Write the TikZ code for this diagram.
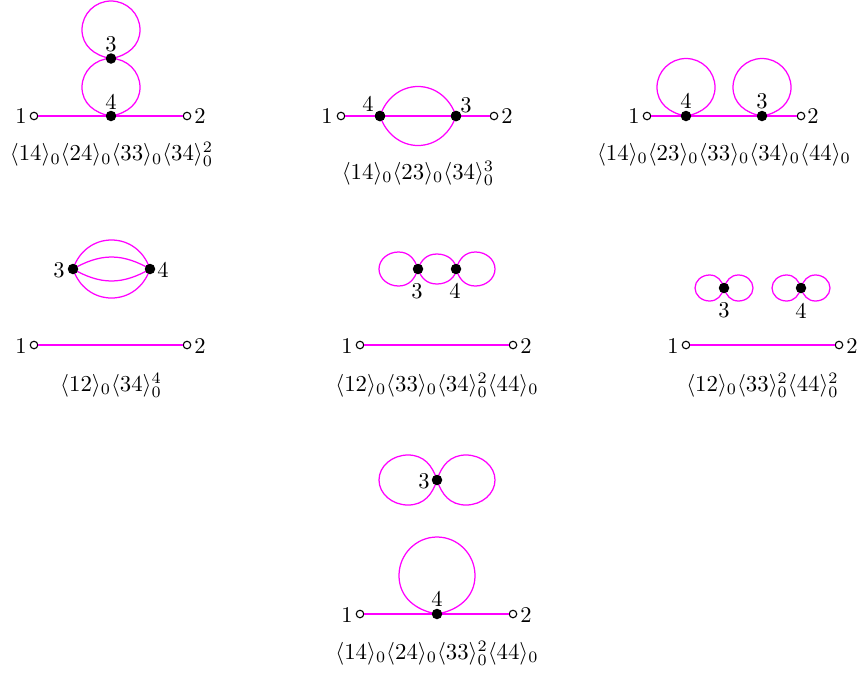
\documentclass[tikz,border=0pt]{standalone}
\definecolor{wirecol}{RGB}{255,0,255}
\begin{document}
\begin{tikzpicture}[x=1pt,y=-1pt,
  wire/.style={wirecol,line width=1.25pt},
  upward/.style={x={(1pt,0pt)},y={(0pt,1pt)}},
  rightward/.style={x={(0pt,1pt)},y={(1pt,0pt)}},
  leftward/.style={x={(0pt,1pt)},y={(-1pt,0pt)}},
  soliddot/.style={circle,fill=black,draw=none,inner sep=0pt,minimum size=10.5pt},
  opendot/.style={circle,fill=white,draw=black,line width=1.1pt,inner sep=0pt,minimum size=7.5pt},
  lab/.style={inner sep=0pt,scale=2.25},
  captext/.style={inner sep=0pt,scale=2.28}]
\useasboundingbox (0,0) rectangle (859,673);
% #1 vertex, #2 direction style, #3 half width, #4 length, #5 pinch at the vertex
\newcommand\wloop[5]{\draw[wire,shift={(#1)},#2]
  (0,0) .. controls ({0.58*#3},{#5*#4}) and (#3,{0.225*#4}) .. (#3,{0.5*#4})
  .. controls (#3,{0.775*#4}) and ({0.55*#3},#4) .. (0,#4)
  .. controls ({-0.55*#3},#4) and (-#3,{0.775*#4}) .. (-#3,{0.5*#4})
  .. controls (-#3,{0.225*#4}) and ({-0.58*#3},{#5*#4}) .. (0,0);}
% D1
\node[opendot] (a1) at (34,116) {}; \node[opendot] (a2) at (187,116) {};
\coordinate (a4) at (111,116); \coordinate (a3) at (111,58.5);
\draw[wire] (a1) -- (a4) -- (a2);
\wloop{a4}{upward}{29}{57.5}{0.05}
\wloop{a3}{upward}{29}{57.5}{0.05}
\node[soliddot] (a4d) at (a4) {}; \node[soliddot] (a3d) at (a3) {};
\node[lab] (a1l) at (21,116.5) {1}; \node[lab] (a2l) at (200,116.5) {2};
\node[lab] (a3l) at (111,44.5) {3}; \node[lab] (a4l) at (111,102) {4};
\node[captext] (acap) at (111.5,154.5) {$\langle14\rangle_0\langle24\rangle_0\langle33\rangle_0\langle34\rangle_0^2$};
% D2
\node[opendot] (b1) at (341,116) {}; \node[opendot] (b2) at (494,116) {};
\node[soliddot] (b4) at (380,116) {}; \node[soliddot] (b3) at (456,116) {};
\coordinate (bt) at (418,86.5); \coordinate (bb) at (418,145.5);
\draw[wire] (b1) -- (b4) -- (b3) -- (b2);
\draw[wire] (b4.center) .. controls (386,98) and (401,86.5) .. (bt) .. controls (435,86.5) and (450,98) .. (b3.center);
\draw[wire] (b4.center) .. controls (386,134) and (401,145.5) .. (bb) .. controls (435,145.5) and (450,134) .. (b3.center);
\node[soliddot] (b4d) at (b4) {}; \node[soliddot] (b3d) at (b3) {};
\node[lab] (b1l) at (327,116.5) {1}; \node[lab] (b2l) at (507,116.5) {2};
\node[lab] (b4l) at (368,104) {4}; \node[lab] (b3l) at (466,105) {3};
\node[captext] (bcap) at (418,173) {$\langle14\rangle_0\langle23\rangle_0\langle34\rangle_0^3$};
% D3
\node[opendot] (c1) at (647,116) {}; \node[opendot] (c2) at (801,116) {};
\coordinate (c4) at (686,116); \coordinate (c3) at (762,116);
\draw[wire] (c1) -- (c4) -- (c3) -- (c2);
\wloop{c4}{upward}{29}{57.5}{0.05}
\wloop{c3}{upward}{29}{57.5}{0.05}
\node[soliddot] (c4d) at (c4) {}; \node[soliddot] (c3d) at (c3) {};
\node[lab] (c1l) at (634,116.5) {1}; \node[lab] (c2l) at (813,116.5) {2};
\node[lab] (c4l) at (686,101) {4}; \node[lab] (c3l) at (762,101) {3};
\node[captext] (ccap) at (724,154.5) {$\langle14\rangle_0\langle23\rangle_0\langle33\rangle_0\langle34\rangle_0\langle44\rangle_0$};
% D4
\node[opendot] (d1) at (34,345) {}; \node[opendot] (d2) at (187,345) {};
\draw[wire] (d1) -- (d2);
\coordinate (d3) at (73,269); \coordinate (d4) at (150,269);
\draw[wire] (d3) .. controls (79,251) and (94,240) .. (111.5,240) .. controls (129,240) and (144,251) .. (d4);
\draw[wire] (d3) .. controls (79,287) and (94,298) .. (111.5,298) .. controls (129,298) and (144,287) .. (d4);
\draw[wire] (d3) .. controls (85,262) and (98,257) .. (111.5,257) .. controls (125,257) and (138,262) .. (d4);
\draw[wire] (d3) .. controls (85,276) and (98,281) .. (111.5,281) .. controls (125,281) and (138,276) .. (d4);
\node[soliddot] (d3d) at (d3) {}; \node[soliddot] (d4d) at (d4) {};
\node[lab] (d1l) at (21,345.5) {1}; \node[lab] (d2l) at (200,345.5) {2};
\node[lab] (d3l) at (59,270) {3}; \node[lab] (d4l) at (163,270) {4};
\node[captext] (dcap) at (111,385) {$\langle12\rangle_0\langle34\rangle_0^4$};
% D5
\node[opendot] (e1) at (360,345) {}; \node[opendot] (e2) at (513,345) {};
\draw[wire] (e1) -- (e2);
\coordinate (e3) at (418,269); \coordinate (e4) at (456,269);
\wloop{e3}{leftward}{17}{39}{0.08}
\wloop{e4}{rightward}{17}{39}{0.08}
\wloop{e3}{rightward}{15}{38}{0.08}
\node[soliddot] (e3d) at (e3) {}; \node[soliddot] (e4d) at (e4) {};
\node[lab] (e1l) at (347,345.5) {1}; \node[lab] (e2l) at (526,345.5) {2};
\node[lab] (e3l) at (417,291) {3}; \node[lab] (e4l) at (455,291) {4};
\node[captext] (ecap) at (437,385) {$\langle12\rangle_0\langle33\rangle_0\langle34\rangle_0^2\langle44\rangle_0$};
% D6
\node[opendot] (f1) at (686,345) {}; \node[opendot] (f2) at (839,345) {};
\draw[wire] (f1) -- (f2);
\coordinate (f3) at (724,288); \coordinate (f4) at (801,288);
\wloop{f3}{leftward}{13}{29}{0.08}
\wloop{f3}{rightward}{13}{29}{0.08}
\wloop{f4}{leftward}{13}{29}{0.08}
\wloop{f4}{rightward}{13}{29}{0.08}
\node[soliddot] (f3d) at (f3) {}; \node[soliddot] (f4d) at (f4) {};
\node[lab] (f1l) at (673,345.5) {1}; \node[lab] (f2l) at (852,345.5) {2};
\node[lab] (f3l) at (724,310) {3}; \node[lab] (f4l) at (801,311) {4};
\node[captext] (fcap) at (762.5,385) {$\langle12\rangle_0\langle33\rangle_0^2\langle44\rangle_0^2$};
% D7
\coordinate (g3) at (437,480);
\wloop{g3}{leftward}{25}{58}{0.08}
\wloop{g3}{rightward}{25}{58}{0.08}
\node[soliddot] (g3d) at (g3) {};
\node[lab] (g3l) at (424,481) {3};
\node[opendot] (g1) at (360,614) {}; \node[opendot] (g2) at (513,614) {};
\coordinate (g4) at (437,614);
\draw[wire] (g1) -- (g4) -- (g2);
\wloop{g4}{upward}{38}{77}{0.05}
\node[soliddot] (g4d) at (g4) {};
\node[lab] (g1l) at (347,614.5) {1}; \node[lab] (g2l) at (526,614.5) {2};
\node[lab] (g4l) at (437,598.5) {4};
\node[captext] (gcap) at (437,653) {$\langle14\rangle_0\langle24\rangle_0\langle33\rangle_0^2\langle44\rangle_0$};
\end{tikzpicture}
\end{document}
